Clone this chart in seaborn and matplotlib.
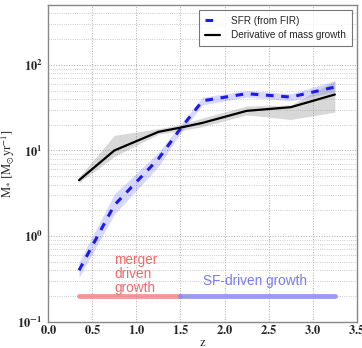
import math

import matplotlib
matplotlib.use("Agg")
import matplotlib.pyplot as plt
from matplotlib.ticker import FuncFormatter, LogLocator, NullFormatter
import pandas as pd
import seaborn as sns

# redshift bins
z = [0.35, 0.75, 1.25, 1.5, 1.75, 2.25, 2.75, 3.25]

# SFR from FIR with band
sfr = [0.40, 2.3, 8.0, 18.0, 38.0, 46.0, 42.0, 55.0]
sfr_lo = [0.33, 1.8, 6.5, 16.0, 34.0, 42.0, 38.0, 48.0]
sfr_hi = [0.50, 3.1, 9.5, 20.0, 42.0, 50.0, 46.0, 65.0]

# derivative of mass growth with band
dm = [4.5, 10.0, 16.5, 18.5, 21.0, 29.0, 32.0, 45.0]
dm_lo = [4.2, 8.5, 15.5, 17.0, 19.0, 26.0, 23.0, 28.0]
dm_hi = [4.9, 15.0, 18.0, 20.0, 24.0, 33.0, 34.0, 65.0]

# growth-mode bars
merger_span = [0.35, 1.5]
sf_span = [1.5, 3.25]
bar_level = 0.2

df_sfr = pd.DataFrame({"z": z, "val": sfr})
df_dm = pd.DataFrame({"z": z, "val": dm})

sns.set_style("white")
plt.rcParams["mathtext.fontset"] = "stix"

fig = plt.figure(figsize=(3.62, 3.48), dpi=100)
ax = fig.add_axes([0.133, 0.075, 0.853, 0.911])

ax.fill_between(z, sfr_lo, sfr_hi, color="#4040ff", alpha=0.2, lw=0)
ax.fill_between(z, dm_lo, dm_hi, color="gray", alpha=0.3, lw=0)

sns.lineplot(data=df_sfr, x="z", y="val", ax=ax, color="#1a1aee", lw=2.2,
             label="SFR (from FIR)")
ax.lines[-1].set_dashes([2.5, 2.5])
sns.lineplot(data=df_dm, x="z", y="val", ax=ax, color="black", lw=1.6,
             label="Derivative of mass growth")

ax.plot(merger_span, [bar_level, bar_level], color="#f28080", lw=3.5, alpha=0.8)
ax.plot(sf_span, [bar_level, bar_level], color="#8484f2", lw=3.5, alpha=0.8)

ax.text(0.75, 0.64, "merger\ndriven\ngrowth", color="#f06a6a", fontsize=9.8,
        va="top", ha="left", family="Liberation Sans", linespacing=1.0)
ax.text(1.75, 0.25, "SF-driven growth", color="#7a7af0", fontsize=9.8,
        va="bottom", ha="left", family="Liberation Sans")

ax.set_yscale("log")
ax.set_xlim(0, 3.5)
ax.set_ylim(0.1, 500)
ax.set_xticks([0.0, 0.5, 1.0, 1.5, 2.0, 2.5, 3.0, 3.5])
ax.xaxis.set_major_formatter(FuncFormatter(lambda v, p: r"$\mathbf{%.1f}$" % v))
ax.yaxis.set_major_locator(LogLocator(base=10, numticks=10))
ax.yaxis.set_major_formatter(
    FuncFormatter(lambda v, p: r"$\mathbf{10^{%d}}$" % round(math.log10(v))))
ax.yaxis.set_minor_locator(LogLocator(base=10, subs=range(2, 10), numticks=20))
ax.yaxis.set_minor_formatter(NullFormatter())
ax.tick_params(axis="x", which="major", labelsize=9, length=0, pad=1.5)
ax.tick_params(axis="y", which="major", labelsize=9, length=0, pad=4)
ax.tick_params(axis="y", which="minor", length=0)

ax.grid(True, which="major", ls=":", color="#aaaaaa", lw=0.7)
ax.grid(True, which="minor", axis="y", ls=":", color="#bbbbbb", lw=0.6)

for s in ax.spines.values():
    s.set_color("#888888")
    s.set_linewidth(1.0)

ax.set_xlabel(r"$\mathrm{z}$", fontsize=9, labelpad=-1)
ax.set_ylabel(r"$\dot{\mathrm{M}}_{*}\ [\mathrm{M}_{\odot}\mathrm{yr}^{-1}]$",
              fontsize=9, labelpad=0)

leg = ax.legend(loc="upper right", frameon=True, fancybox=False,
                prop={"family": "Liberation Sans", "size": 7.2}, handlelength=1.5,
                handletextpad=1.1, borderpad=0.6, labelspacing=0.45)
leg.get_frame().set_edgecolor("#555555")
leg.get_frame().set_linewidth(0.8)

fig.savefig("out.png", dpi=100)
